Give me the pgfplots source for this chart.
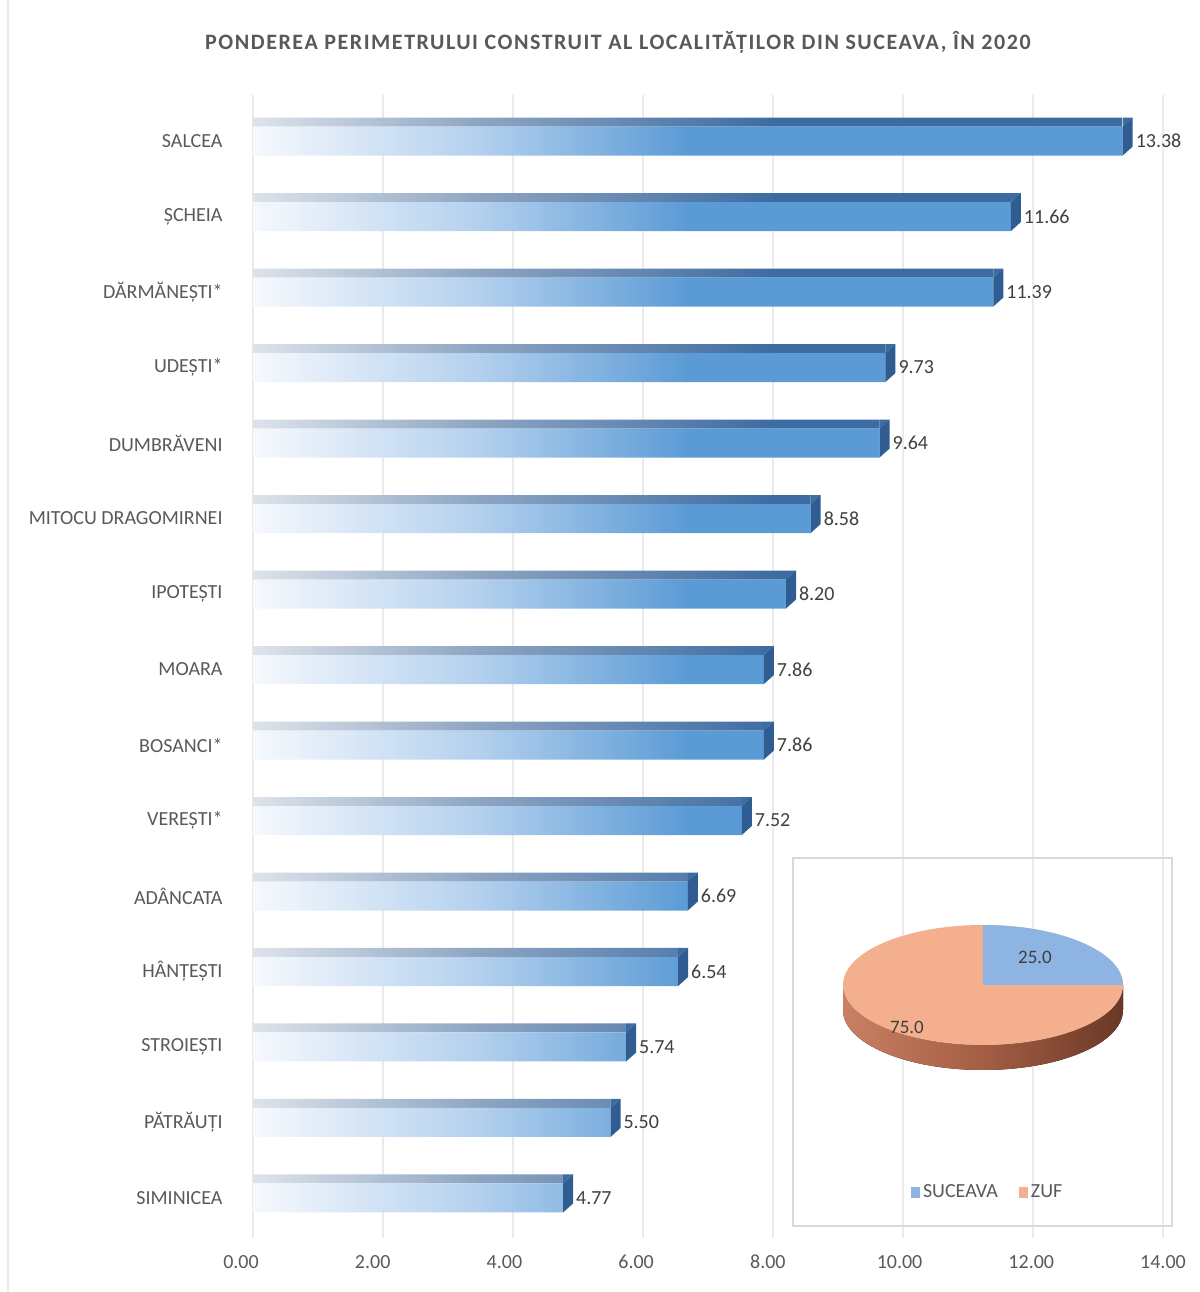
\documentclass[border=0pt]{standalone}
\usepackage{fontspec}
\setmainfont{Carlito}
\newfontfamily\titlefont[LetterSpace=7.0]{Carlito}
\usepackage{pgfplots}
\pgfplotsset{compat=1.18}
\usepackage{pgfplotstable}

\definecolor{barblue}{HTML}{5B9BD5}
\definecolor{barlight}{HTML}{F6F9FD}
\definecolor{barmid}{HTML}{B3D0EE}
\definecolor{topdark}{HTML}{3D6CA2}
\definecolor{topmid}{HTML}{8DA5C2}
\definecolor{toplight}{HTML}{DDE3EA}
\definecolor{sidedark}{HTML}{2F5D92}
\definecolor{txt}{HTML}{595959}
\definecolor{gridc}{HTML}{EAEAEA}
\definecolor{boxc}{HTML}{D9D9D9}
\definecolor{sucblue}{HTML}{8DB4E2}
\definecolor{zuf}{HTML}{F4AF8E}
\definecolor{sideL}{HTML}{C98063}
\definecolor{sideM}{HTML}{A45E44}
\definecolor{sideR}{HTML}{6A3826}
\definecolor{lab}{HTML}{404040}

\pgfdeclarehorizontalshading{frontshade}{100bp}{color(0bp)=(barlight); color(25bp)=(barlight); color(38bp)=(barmid); color(50bp)=(barblue); color(100bp)=(barblue)}
\pgfdeclarehorizontalshading{topshade}{100bp}{color(0bp)=(toplight); color(25bp)=(toplight); color(38bp)=(topmid); color(55bp)=(topdark); color(100bp)=(topdark)}

\pgfdeclareplotmark{sideface}{%
  \pgfpathmoveto{\pgfqpoint{0pt}{-7.25pt}}%
  \pgfpathlineto{\pgfqpoint{0pt}{7.25pt}}%
  \pgfpathlineto{\pgfqpoint{5pt}{11.75pt}}%
  \pgfpathlineto{\pgfqpoint{5pt}{-2.75pt}}%
  \pgfpathclose\pgfusepathqfill}
\pgfdeclareplotmark{topend}{%
  \pgfpathmoveto{\pgfqpoint{0pt}{7.25pt}}%
  \pgfpathlineto{\pgfqpoint{5pt}{11.75pt}}%
  \pgfpathlineto{\pgfqpoint{0pt}{11.75pt}}%
  \pgfpathclose\pgfusepathqfill}

\pgfplotstableread{
idx val
0 4.77
1 5.50
2 5.74
3 6.54
4 6.69
5 7.52
6 7.86
7 7.86
8 8.20
9 8.58
10 9.64
11 9.73
12 11.39
13 11.66
14 13.38
}\bardata

\begin{document}
\begin{tikzpicture}
\path[use as bounding box] (0,0) rectangle (600pt,646pt);
\draw[gridc, line width=0.8pt] (4pt,0pt) -- (4pt,646pt);

\begin{axis}[
  at={(126.5pt,27pt)}, anchor=south west,
  scale only axis, width=455pt, height=571.5pt,
  xmin=0, xmax=14, ymin=-0.53, ymax=14.61,
  xtick={0,2,...,14},
  ytick={0,...,14},
  yticklabels={SIMINICEA, PĂTRĂUȚI, STROIEȘTI, HÂNȚEȘTI, ADÂNCATA, VEREȘTI*, BOSANCI*, MOARA, IPOTEȘTI, MITOCU DRAGOMIRNEI, DUMBRĂVENI, UDEȘTI*, DĂRMĂNEȘTI*, ȘCHEIA, SALCEA},
  axis line style={draw=none},
  major tick length=0pt,
  xmajorgrids, grid style={gridc, line width=0.7pt},
  tick label style={font=\fontsize{10}{12}\selectfont, text=txt},
  yticklabel style={xshift=-11.7pt},
  xticklabel style={yshift=-5pt, xshift={(-6+0.857*\ticknum)*1pt}, /pgf/number format/.cd, fixed, fixed zerofill, precision=2, assume math mode=true},
  clip=false,
  title={PONDEREA PERIMETRULUI CONSTRUIT AL LOCALITĂȚILOR DIN SUCEAVA, ÎN 2020},
  title style={at={(0.401,1)}, anchor=center, yshift=20.5pt, font=\titlefont\fontsize{11}{13}\selectfont\bfseries, text=txt},
]
\addplot[xbar, bar width=4.5pt, bar shift=9.5pt, draw=none, shade, shading=topshade] table[x=val, y=idx]{\bardata};
\addplot[xbar, bar width=14.5pt, bar shift=0pt, draw=none, shade, shading=frontshade,
  point meta=x,
  nodes near coords={\pgfmathprintnumber[fixed, fixed zerofill, precision=2, assume math mode=true]{\pgfplotspointmeta}},
  every node near coord/.append style={anchor=west, xshift=3pt, font=\fontsize{10}{12}\selectfont, text=lab}
  ] table[x=val, y=idx]{\bardata};
\addplot[only marks, mark=topend, color=topdark, mark options={draw=none, fill=topdark}] table[x=val, y=idx]{\bardata};
\addplot[only marks, mark=sideface, color=sidedark, mark options={draw=none, fill=sidedark}] table[x=val, y=idx]{\bardata};
\end{axis}

\begin{axis}[
  at={(396.5pt,33pt)}, anchor=south west,
  scale only axis, width=189.5pt, height=184pt,
  xmin=0, xmax=189.5, ymin=0, ymax=184,
  xtick=\empty, ytick=\empty,
  axis line style={draw=boxc, line width=0.8pt},
  clip=false,
  legend style={at={(0.515,0.0897)}, anchor=center, draw=none, fill=none,
    legend columns=2, font=\fontsize{10}{12}\selectfont, text=txt,
    /tikz/every even column/.append style={column sep=9pt},
    inner sep=0pt, nodes={inner sep=1.5pt}},
  legend image code/.code={\fill[#1, draw=none] (0.5pt,-2.5pt) rectangle (5pt,3pt);},
]
\pgfmathsetmacro{\sucval}{25.0}
\pgfmathsetmacro{\zufval}{75.0}
\pgfmathsetmacro{\sucang}{\sucval/(\sucval+\zufval)*360}
% side of the pie
\fill[left color=sideL, right color=sideR, middle color=sideM]
  (25,120.5) -- (25,108) arc[start angle=180, end angle=360, x radius=70pt, y radius=30pt]
  -- (165,120.5) arc[start angle=360, end angle=180, x radius=70pt, y radius=30pt] -- cycle;
% top of the pie
\fill[zuf] (95,120.5) ellipse[x radius=70pt, y radius=30pt];
\fill[sucblue] (95,120.5) -- ++(70pt,0pt) arc[start angle=0, end angle=\sucang, x radius=70pt, y radius=30pt] -- cycle;
\node[font=\fontsize{9.5}{11}\selectfont, text=lab] at (121,134.5) {25.0};
\node[font=\fontsize{9.5}{11}\selectfont, text=lab] at (57,99.5) {75.0};
\addlegendimage{fill=sucblue}
\addlegendentry{SUCEAVA}
\addlegendimage{fill=zuf}
\addlegendentry{ZUF}
\end{axis}
\end{tikzpicture}
\end{document}
